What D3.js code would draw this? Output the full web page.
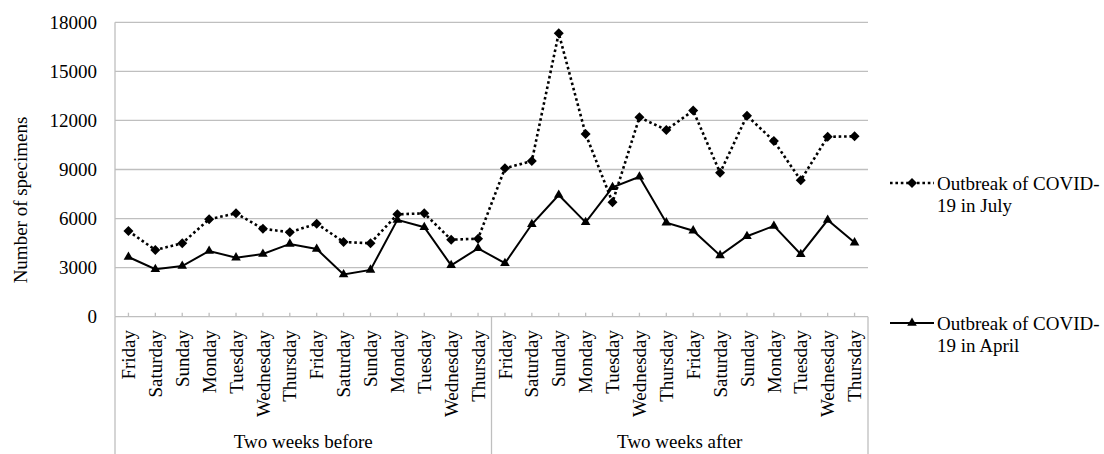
<!DOCTYPE html>
<html>
<head>
<meta charset="utf-8">
<script src="https://cdn.jsdelivr.net/npm/d3@7"></script>
<style>
  html, body { margin: 0; padding: 0; background: #fff; }
</style>
</head>
<body>
<svg id="chart" width="1104" height="454" font-family="'Liberation Serif', 'DejaVu Serif', serif"></svg>
<script>
const days = ["Friday","Saturday","Sunday","Monday","Tuesday","Wednesday","Thursday",
              "Friday","Saturday","Sunday","Monday","Tuesday","Wednesday","Thursday",
              "Friday","Saturday","Sunday","Monday","Tuesday","Wednesday","Thursday",
              "Friday","Saturday","Sunday","Monday","Tuesday","Wednesday","Thursday"];
const groups = ["Two weeks before", "Two weeks after"];
const julyValues = [5240,4080,4490,5960,6320,5380,5160,5690,4570,4490,6260,6320,4710,4770,
                    9070,9520,17330,11170,6990,12190,11420,12600,8800,12290,10740,8340,11000,11030];
const aprilValues = [3650,2900,3100,4020,3610,3830,4450,4140,2580,2860,5920,5470,3140,4180,
                     3270,5650,7440,5770,7910,8560,5750,5260,3750,4920,5550,3820,5910,4530];
const yTicks = [0,3000,6000,9000,12000,15000,18000];
const seriesNames = ["Outbreak of COVID-19 in July", "Outbreak of COVID-19 in April"];

const svg = d3.select("#chart");
const pLeft = 115, pRight = 868, pTop = 22.3, pBottom = 316.7;
const fontSize = 19;
const FONT = "Liberation Serif";

const x = d3.scaleBand().domain(d3.range(days.length)).range([pLeft, pRight]).paddingInner(0).paddingOuter(0);
const y = d3.scaleLinear().domain([0, 18000]).range([pBottom, pTop]);
const cx = i => x(i) + x.bandwidth() / 2;

// gridlines
svg.append("g").selectAll("line").data(yTicks).join("line")
  .attr("x1", pLeft).attr("x2", pRight)
  .attr("y1", d => y(d)).attr("y2", d => y(d))
  .attr("stroke", "#bfbfbf").attr("stroke-width", 1.3);

// y axis line
svg.append("line").attr("x1", pLeft).attr("x2", pLeft).attr("y1", pTop).attr("y2", pBottom)
  .attr("stroke", "#bfbfbf").attr("stroke-width", 1.3);

// y tick labels
svg.append("g").selectAll("text").data(yTicks).join("text")
  .attr("x", 97).attr("y", d => y(d)).attr("dy", "0.35em")
  .attr("text-anchor", "end").attr("font-family", FONT).attr("font-size", fontSize).text(d => d);

// y axis title
svg.append("text").attr("transform", "translate(20,200) rotate(-90)")
  .attr("text-anchor", "middle").attr("dy", "0.35em").attr("font-family", FONT).attr("font-size", fontSize)
  .text("Number of specimens");

// x tick marks (upwards, at category centers)
svg.append("g").selectAll("line").data(d3.range(days.length)).join("line")
  .attr("x1", d => cx(d)).attr("x2", d => cx(d))
  .attr("y1", pBottom - 4).attr("y2", pBottom)
  .attr("stroke", "#bfbfbf").attr("stroke-width", 1.3);

// group separators below axis
const sepIdx = [0, 14, 28];
svg.append("g").selectAll("line").data(sepIdx).join("line")
  .attr("x1", d => d === 28 ? pRight : x(d)).attr("x2", d => d === 28 ? pRight : x(d))
  .attr("y1", pBottom).attr("y2", 454)
  .attr("stroke", "#bfbfbf").attr("stroke-width", 1.3);

// category labels
svg.append("g").selectAll("text").data(days).join("text")
  .attr("transform", (d, i) => `translate(${cx(i)},330) rotate(-90)`)
  .attr("text-anchor", "end").attr("dy", "0.35em").attr("font-family", FONT).attr("font-size", fontSize)
  .text(d => d);

// group labels
svg.append("g").selectAll("text").data(groups).join("text")
  .attr("x", (d, i) => (x(i * 14) + (i === 1 ? pRight : x(14))) / 2)
  .attr("y", 448).attr("text-anchor", "middle").attr("font-family", FONT).attr("font-size", fontSize)
  .text(d => d);

// lines
const line = d3.line().x((d, i) => cx(i)).y(d => y(d));
svg.append("path").datum(julyValues).attr("d", line)
  .attr("fill", "none").attr("stroke", "#000").attr("stroke-width", 2.6)
  .attr("stroke-dasharray", "2.6,2.8");
svg.append("path").datum(aprilValues).attr("d", line)
  .attr("fill", "none").attr("stroke", "#000").attr("stroke-width", 2);

const diamond = d3.symbol().type(d3.symbolSquare).size(50);
const triangle = d3.symbol().type(d3.symbolTriangle).size(40);

svg.append("g").selectAll("path").data(julyValues).join("path")
  .attr("d", diamond).attr("transform", (d, i) => `translate(${cx(i)},${y(d)}) rotate(45)`)
  .attr("fill", "#000");
svg.append("g").selectAll("path").data(aprilValues).join("path")
  .attr("d", triangle).attr("transform", (d, i) => `translate(${cx(i)},${y(d)})`)
  .attr("fill", "#000");

// legend
const legendItems = [
  {name: seriesNames[0], lines: ["Outbreak of COVID-", "19 in July"], y: 183, dash: "2.6,2.8", width: 2.6, sym: diamond, rot: 45},
  {name: seriesNames[1], lines: ["Outbreak of COVID-", "19 in April"], y: 323, dash: null, width: 2, sym: triangle, rot: 0}
];
const lg = svg.append("g").selectAll("g").data(legendItems).join("g")
  .attr("transform", d => `translate(0,${d.y})`);
lg.append("line").attr("x1", 890).attr("x2", 934).attr("y1", 0).attr("y2", 0)
  .attr("stroke", "#000").attr("stroke-width", d => d.width)
  .attr("stroke-dasharray", d => d.dash);
lg.append("path").attr("d", d => d.sym()).attr("transform", d => `translate(912,0) rotate(${d.rot})`).attr("fill", "#000");
lg.append("text").attr("x", 937).attr("y", 0).attr("font-family", FONT).attr("font-size", fontSize)
  .selectAll("tspan").data(d => d.lines).join("tspan")
  .attr("x", 937).attr("dy", (d, i) => i === 0 ? "0.35em" : "1.15em").text(d => d);
</script>
</body>
</html>
